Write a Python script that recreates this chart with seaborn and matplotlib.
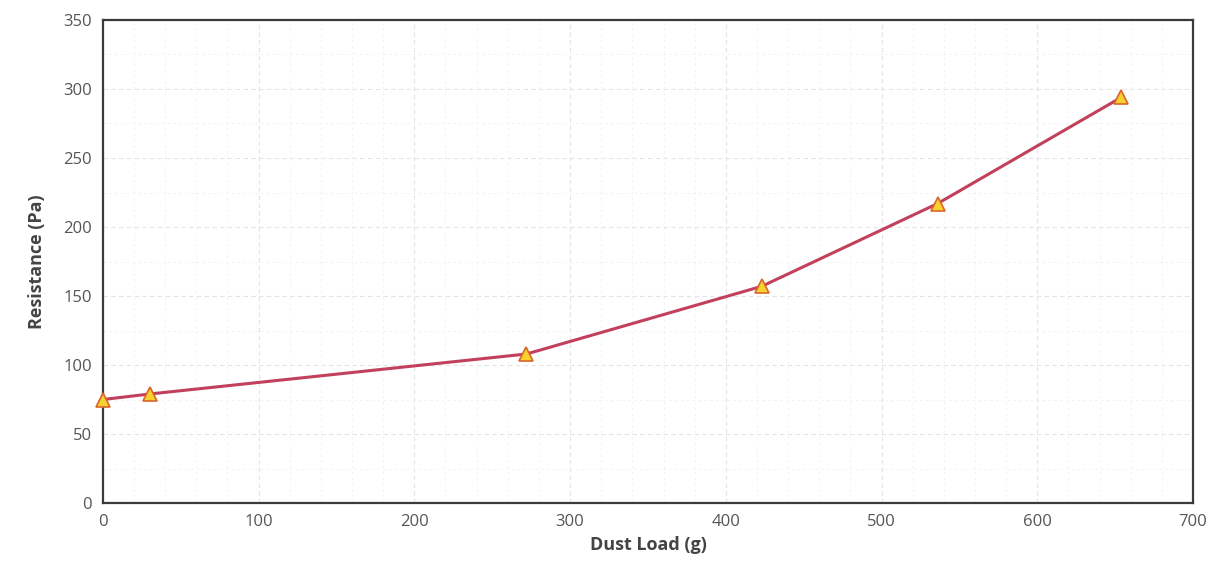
import numpy as np
import pandas as pd
import matplotlib
matplotlib.use('Agg')
import matplotlib.pyplot as plt
import seaborn as sns
from matplotlib.ticker import MultipleLocator

# values
dust_load = [0, 30, 272, 423, 536, 654]
resistance = [75, 79, 108, 157, 217, 294]

x_ticks = [0, 100, 200, 300, 400, 500, 600, 700]
y_ticks = [0, 50, 100, 150, 200, 250, 300, 350]

data = pd.DataFrame({'Dust Load (g)': dust_load, 'Resistance (Pa)': resistance})

sns.set_style('white')
plt.rcParams['font.family'] = ['Open Sans', 'DejaVu Sans']

fig = plt.figure(figsize=(12.1, 5.71), dpi=100)
ax = fig.add_axes([0.085, 0.119, 0.901, 0.846])

sns.lineplot(data=data, x='Dust Load (g)', y='Resistance (Pa)', ax=ax,
             color='#c2405c', linewidth=2.2, marker='^', markersize=10,
             markerfacecolor='#f7d22e', markeredgecolor='#d9652a', markeredgewidth=1.2,
             clip_on=False, zorder=5)

ax.set_xlim(0, 700)
ax.set_ylim(0, 350)
ax.set_xticks(x_ticks)
ax.set_yticks(y_ticks)
ax.xaxis.set_minor_locator(MultipleLocator(20))
ax.yaxis.set_minor_locator(MultipleLocator(25))
ax.grid(which='major', color='#e4e4e4', linewidth=0.8, linestyle=(0, (4, 3)))
ax.grid(which='minor', color='#f0f0f0', linewidth=0.6, linestyle=(0, (3, 4)))
ax.set_axisbelow(True)

for s in ax.spines.values():
    s.set_color('#3a3a3a')
    s.set_linewidth(1.6)

ax.tick_params(axis='both', which='both', length=0, labelsize=12, labelcolor='#555555', pad=8)
ax.set_xlabel('Dust Load (g)', fontsize=13, weight='bold', color='#444444', labelpad=4)
ax.set_ylabel('Resistance (Pa)', fontsize=13, weight='bold', color='#444444', labelpad=12)

fig.savefig('out.png', dpi=100)
